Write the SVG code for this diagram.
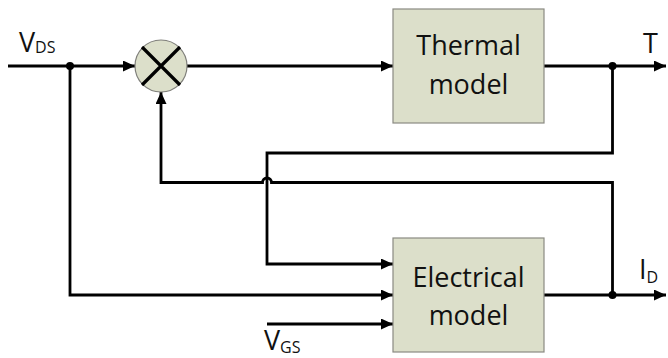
<svg xmlns="http://www.w3.org/2000/svg" width="668" height="358" viewBox="0 0 668 358">
<style>
.bg{fill:#ffffff}
.box{fill:#dcdfca;stroke:#8a8a82;stroke-width:1.2}
.wire{fill:none;stroke:#000;stroke-width:2.8}
.lbl{font-family:"Open Sans","DejaVu Sans",sans-serif;font-size:27px;fill:#111}
.sub{font-size:16px}
.dot{fill:#000}
</style>
<defs>
<marker id="ah" markerUnits="userSpaceOnUse" markerWidth="13" markerHeight="11" refX="12" refY="5.5" orient="auto">
<path d="M0,0 L12,5.5 L0,11 z" fill="#000"/>
</marker>
</defs>
<rect class="bg" x="0" y="0" width="668" height="358"/>
<g id="connectors">
<path class="wire" d="M8,66 H135" marker-end="url(#ah)"/>
<path class="wire" d="M70,66 V295 H393" marker-end="url(#ah)"/>
<path class="wire" d="M187,66 H393" marker-end="url(#ah)"/>
<path class="wire" d="M544,66 H666" marker-end="url(#ah)"/>
<path class="wire" d="M612.5,66 V153 H267 V264 H393" marker-end="url(#ah)"/>
<path class="wire" d="M544,295 H666" marker-end="url(#ah)"/>
<path class="wire" d="M612.5,295 V182.5 H271.5 A4.5 4.5 0 0 0 262.5 182.5 H161 V92" marker-end="url(#ah)"/>
<path class="wire" d="M267,324 H393" marker-end="url(#ah)"/>
<circle class="dot" cx="70" cy="66" r="4"/>
<circle class="dot" cx="612.5" cy="66" r="4"/>
<circle class="dot" cx="612.5" cy="295" r="4"/>
</g>
<g id="multiplier">
<circle cx="161" cy="66" r="26" fill="#dcdfca" stroke="#7f7f7a" stroke-width="1.2"/>
<path d="M142,47 L180,85 M180,47 L142,85" stroke="#000" stroke-width="3.2" fill="none"/>
</g>
<g id="thermal">
<rect class="box" x="393" y="9" width="151" height="114"/>
<text class="lbl" x="468.5" y="55" text-anchor="middle">Thermal</text>
<text class="lbl" x="468.5" y="94" text-anchor="middle">model</text>
</g>
<g id="electrical">
<rect class="box" x="393" y="238" width="151" height="114"/>
<text class="lbl" x="468.5" y="287" text-anchor="middle">Electrical</text>
<text class="lbl" x="468.5" y="325" text-anchor="middle">model</text>
</g>
<g id="labels">
<text class="lbl" x="19" y="52">V<tspan class="sub" dy="1">DS</tspan></text>
<text class="lbl" x="643" y="53">T</text>
<text class="lbl" x="639" y="279">I<tspan class="sub" dy="4" font-size="18">D</tspan></text>
<text class="lbl" x="264" y="350">V<tspan class="sub" dy="3">GS</tspan></text>
</g>
</svg>
